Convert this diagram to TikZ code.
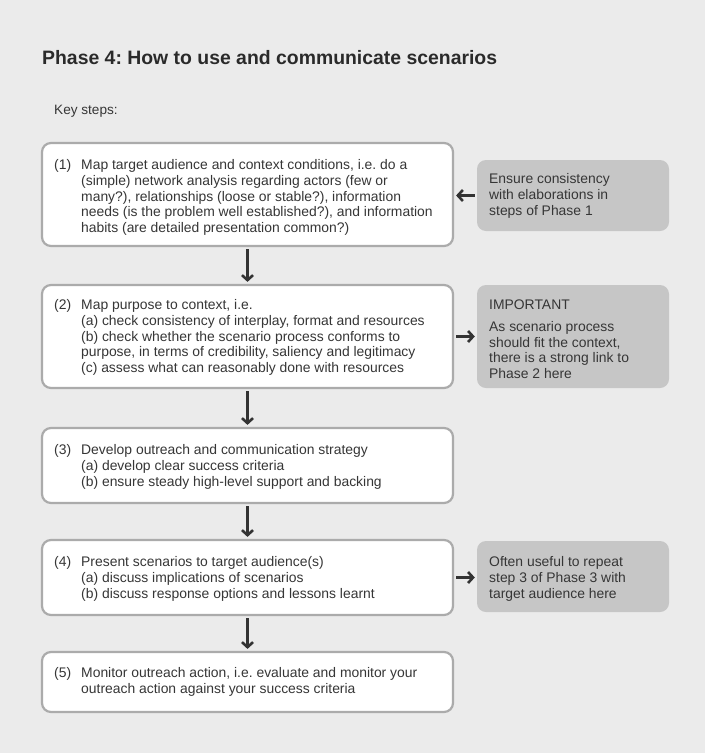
\documentclass[tikz,border=0pt]{standalone}
\usepackage{fontspec}
\setmainfont{Liberation Sans}
\frenchspacing
\usetikzlibrary{arrows.meta}
\definecolor{bgcol}{HTML}{EBEBEB}
\definecolor{boxline}{HTML}{ABABAB}
\definecolor{notefill}{HTML}{C6C6C6}
\definecolor{txtcol}{HTML}{363636}
\definecolor{titlecol}{HTML}{2A2A2A}
\definecolor{arrowcol}{HTML}{333333}
\tikzset{
  stepbox/.style={draw=boxline, line width=2.2pt, fill=white, rounded corners=9pt, inner sep=0pt, minimum width=411pt},
  notebox/.style={fill=notefill, rounded corners=9pt, inner sep=0pt, minimum width=192pt},
  txt/.style={anchor=north west, inner sep=0pt, align=left, font=\fontsize{13.9}{15.6}\selectfont\frenchspacing, text=txtcol},
  flow/.style={draw=arrowcol, line width=2.6pt, shorten <=2pt, shorten >=2pt, -{Straight Barb[length=5pt,width=11pt,line width=2.6pt]}}
}
\begin{document}
\begin{tikzpicture}[x=1pt,y=-1pt]
\fill[bgcol] (0,0) rectangle (705,753);
\useasboundingbox (0,0) rectangle (705,753);

\node[anchor=base west, inner sep=0pt, font=\fontsize{19.4}{22}\selectfont\bfseries\frenchspacing, text=titlecol] (title) at (42,64) {Phase 4: How to use and communicate scenarios};
\node[anchor=base west, inner sep=0pt, font=\fontsize{13.6}{15}\selectfont, text=txtcol] (key) at (54,114) {Key steps:};

% main boxes
\node[stepbox, minimum height=103pt] (b1) at (247.5,194.5) {};
\node[stepbox, minimum height=103pt] (b2) at (247.5,336.5) {};
\node[stepbox, minimum height=75pt] (b3) at (247.5,465.5) {};
\node[stepbox, minimum height=75pt] (b4) at (247.5,577.5) {};
\node[stepbox, minimum height=60pt] (b5) at (247.5,682) {};

% side notes
\node[notebox, minimum height=71pt] (s1) at (573,195.5) {};
\node[notebox, minimum height=103pt] (s2) at (573,336.5) {};
\node[notebox, minimum height=71pt] (s3) at (573,576.5) {};

% texts
\node[txt] (n1) at (54,159.6) {(1)};
\node[txt] (t1) at (81,159.6) {Map target audience and context conditions, i.e. do a\\(simple) network analysis regarding actors (few or\\many?), relationships (loose or stable?), information\\needs (is the problem well established?), and information\\habits (are detailed presentation common?)};
\node[txt] (n2) at (54,299.6) {(2)};
\node[txt] (t2) at (81,299.6) {Map purpose to context, i.e.\\(a) check consistency of interplay, format and resources\\(b) check whether the scenario process conforms to\\purpose, in terms of credibility, saliency and legitimacy\\(c) assess what can reasonably done with resources};
\node[txt] (n3) at (54,444.6) {(3)};
\node[txt] (t3) at (81,444.6) {Develop outreach and communication strategy\\(a) develop clear success criteria\\(b) ensure steady high-level support and backing};
\node[txt] (n4) at (54,556.6) {(4)};
\node[txt] (t4) at (81,556.6) {Present scenarios to target audience(s)\\(a) discuss implications of scenarios\\(b) discuss response options and lessons learnt};
\node[txt] (n5) at (54,667.6) {(5)};
\node[txt] (t5) at (81,667.6) {Monitor outreach action, i.e. evaluate and monitor your\\outreach action against your success criteria};

\node[txt] (u1) at (489,173.6) {Ensure consistency\\with elaborations in\\steps of Phase 1};
\node[txt] (u2) at (489,300) {IMPORTANT\\[6pt]As scenario process\\should fit the context,\\there is a strong link to\\Phase 2 here};
\node[txt] (u3) at (489,556.6) {Often useful to repeat\\step 3 of Phase 3 with\\target audience here};

% connectors
\draw[flow] (b1) -- (b2);
\draw[flow] (b2) -- (b3);
\draw[flow] (b3) -- (b4);
\draw[flow] (b4) -- (b5);
\draw[flow] (s1.west) -- (s1.west -| b1.east);
\draw[flow] (b2.east) -- (b2.east -| s2.west);
\draw[flow] (b4.east) -- (b4.east -| s3.west);
\end{tikzpicture}
\end{document}
